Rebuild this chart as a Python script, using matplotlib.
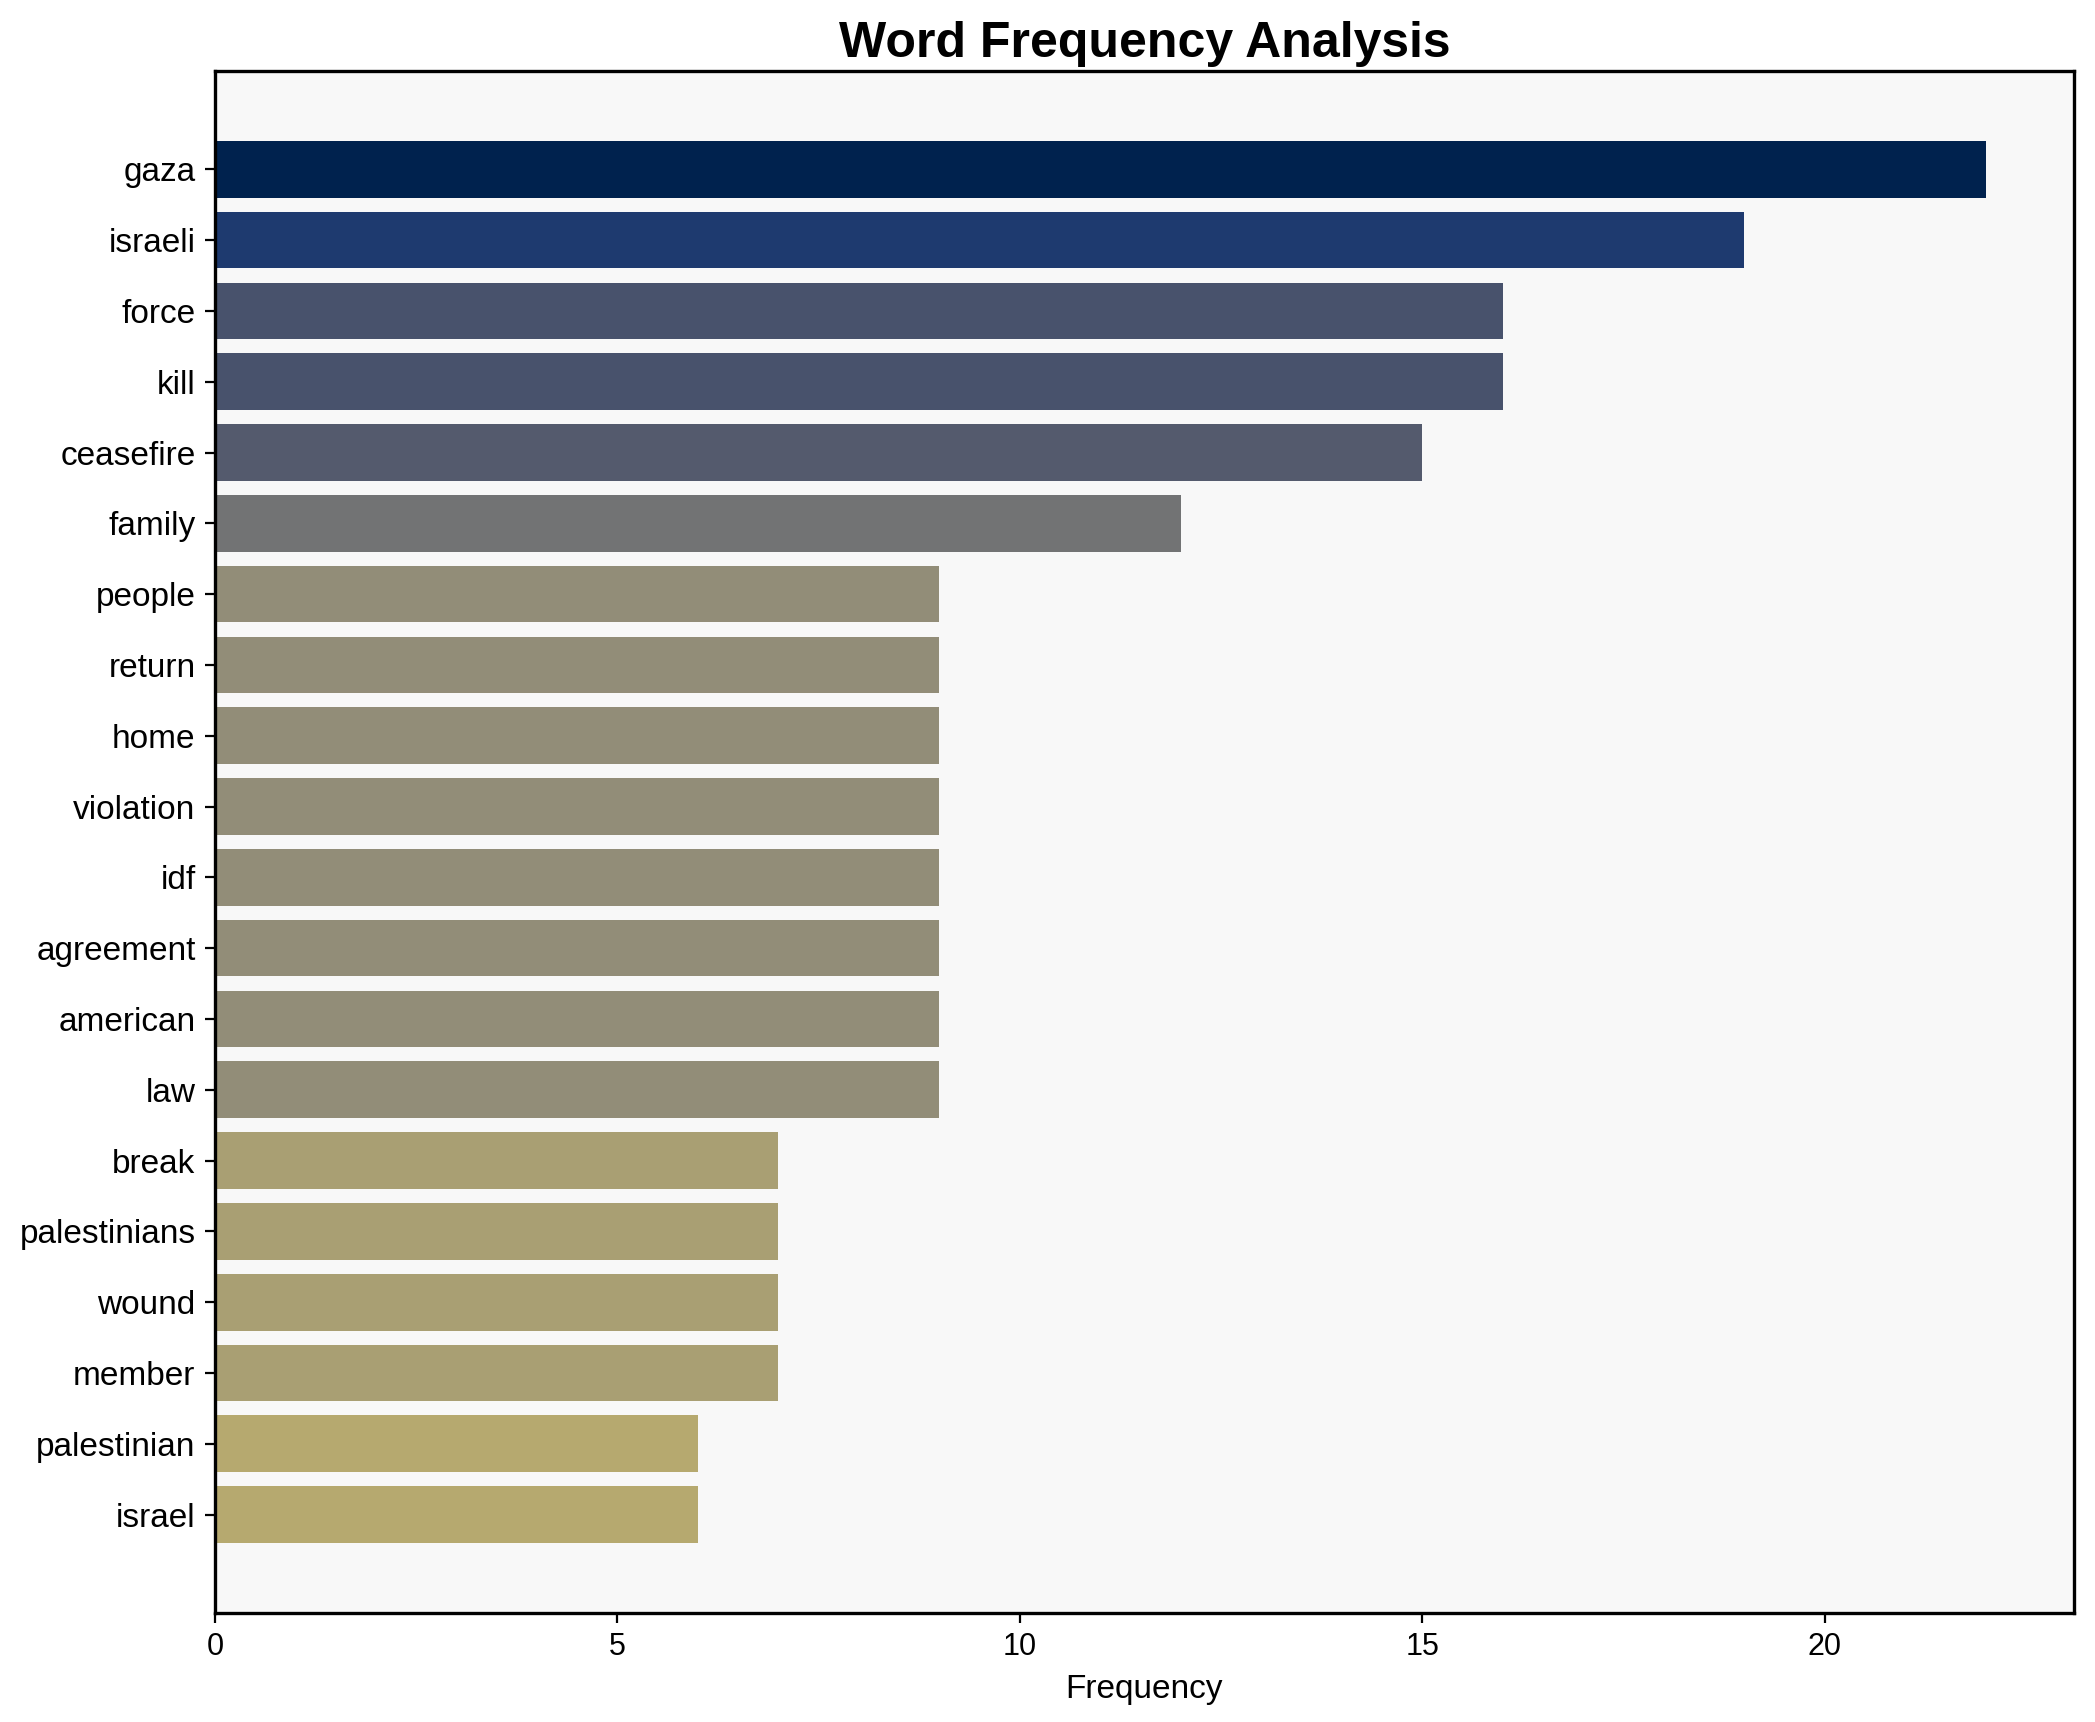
import matplotlib
matplotlib.use("Agg")
import matplotlib.pyplot as plt
import numpy as np

plt.rcParams["font.family"] = ["Liberation Sans", "DejaVu Sans"]

# word counts
words = ["gaza", "israeli", "force", "kill", "ceasefire", "family", "people",
         "return", "home", "violation", "idf", "agreement", "american", "law",
         "break", "palestinians", "wound", "member", "palestinian", "israel"]
counts = [22, 19, 16, 16, 15, 12, 9, 9, 9, 9, 9, 9, 9, 9, 7, 7, 7, 7, 6, 6]

fig = plt.figure(figsize=(10.475, 8.61), dpi=200)
ax = fig.add_axes([0.1026, 0.0633, 0.8874, 0.8955])
ax.set_facecolor("#f8f8f8")

vals = np.array(counts)
colors = plt.cm.cividis(1 - vals / vals.max())
y = np.arange(len(words))
ax.barh(y, vals, height=0.8, color=colors)
ax.set_yticks(y)
ax.set_yticklabels(words, fontsize=12)
ax.invert_yaxis()
ax.tick_params(axis="x", labelsize=11)

ax.set_xlabel("Frequency", fontsize=12)
ax.set_title("Word Frequency Analysis", fontsize=18, fontweight="bold", pad=5)

for s in ax.spines.values():
    s.set_linewidth(1.2)

fig.savefig("out.png", dpi=200)
